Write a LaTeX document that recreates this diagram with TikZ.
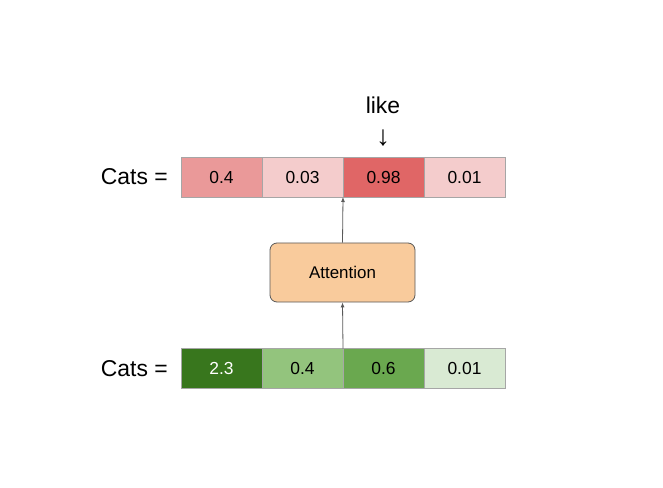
\documentclass[tikz,border=0pt]{standalone}
\usepackage{fontspec}
\setmainfont{Liberation Sans}
\usepackage{tikz}
\usetikzlibrary{arrows.meta,positioning}
\definecolor{RedA}{HTML}{EA9999}
\definecolor{RedB}{HTML}{F4CCCC}
\definecolor{RedC}{HTML}{E06666}
\definecolor{GreenA}{HTML}{38761D}
\definecolor{GreenB}{HTML}{93C47D}
\definecolor{GreenC}{HTML}{6AA84F}
\definecolor{GreenD}{HTML}{D9EAD3}
\definecolor{Peach}{HTML}{F9CB9C}
\definecolor{EdgeGray}{HTML}{595959}
\definecolor{CellLine}{HTML}{A6A6A6}

\begin{document}
\begin{tikzpicture}[
  x=1bp,y=-1bp,
  node distance=0bp,
  cell/.style={draw=CellLine,line width=0.8bp,minimum width=81bp,minimum height=40bp,inner sep=0pt,outer sep=0pt,font=\fontsize{17.5}{20}\selectfont},
  lbl/.style={font=\fontsize{23}{26}\selectfont,inner sep=0pt},
  attn/.style={draw=EdgeGray,line width=0.8bp,rounded corners=7bp,fill=Peach,minimum width=145bp,minimum height=59bp,font=\fontsize{17}{20}\selectfont},
  arr/.style={-{Latex[length=5bp,width=4bp]},line width=0.8bp,draw=EdgeGray}
]
\useasboundingbox (0,0) rectangle (663,488);
% top row
\node[cell,fill=RedA] (t1) at (221.5,177) {0.4};
\node[cell,fill=RedB,right=of t1] (t2) {0.03};
\node[cell,fill=RedC,right=of t2] (t3) {0.98};
\node[cell,fill=RedB,right=of t3] (t4) {0.01};
\node[lbl,left=13bp of t1] (tcats) {Cats =};
% bottom row
\node[cell,fill=GreenA,text=white] (b1) at (221.5,368.5) {2.3};
\node[cell,fill=GreenB,right=of b1] (b2) {0.4};
\node[cell,fill=GreenC,right=of b2] (b3) {0.6};
\node[cell,fill=GreenD,right=of b3] (b4) {0.01};
\node[lbl,left=13bp of b1] (bcats) {Cats =};
% attention
\node[attn] (attn) at (342.5,272.5) {Attention};
\draw[arr] (b3.north west) -- (attn.south);
\draw[arr] (attn.north) -- (t3.south west);
% predicted word
\node[lbl,font=\fontsize{28}{30}\selectfont] (down) at (383,138) {↓};
\node[lbl] (like) at (383,105) {like};
\end{tikzpicture}
\end{document}
